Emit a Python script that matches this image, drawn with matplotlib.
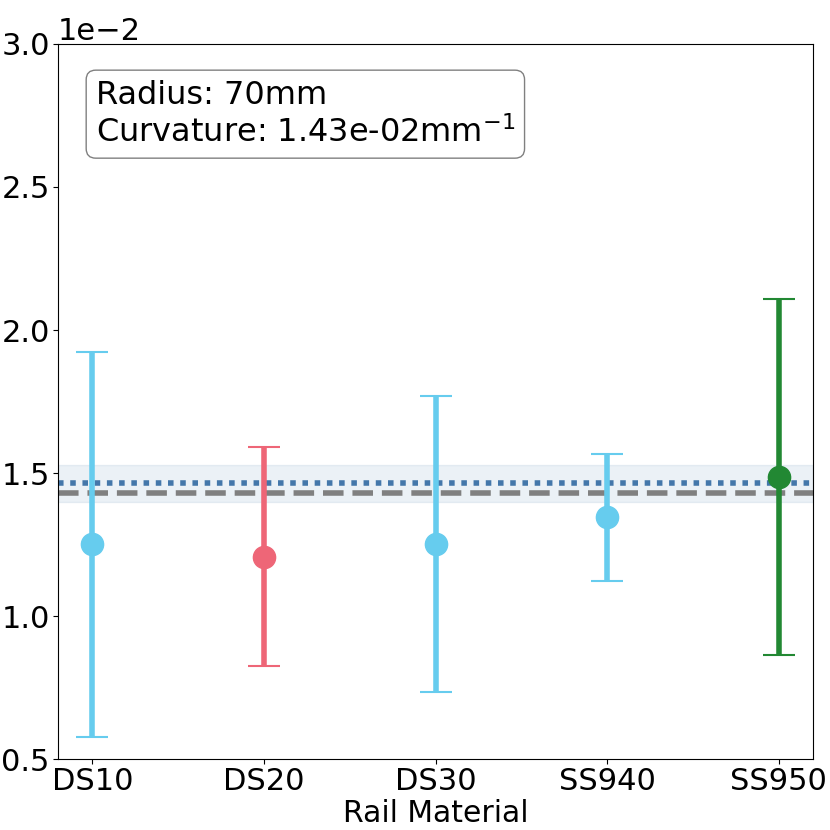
import matplotlib
matplotlib.use("Agg")
import matplotlib.pyplot as plt
import numpy as np

materials = ["DS10", "DS20", "DS30", "SS940", "SS950"]
means = [0.01252, 0.01206, 0.01252, 0.01346, 0.01486]
upper = [0.01923, 0.01591, 0.01769, 0.01566, 0.02108]
lower = [0.00577, 0.00825, 0.00734, 0.01122, 0.00864]
colors = ["#66CCEE", "#EE6677", "#66CCEE", "#66CCEE", "#228833"]
target_curv = 0.0143
mean_line = 0.01465
band_low, band_high = 0.01399, 0.01528

fig = plt.figure(figsize=(8.3, 8.3), dpi=100)
ax = fig.add_axes([0.0699, 0.0855, 0.9096, 0.8615])

x = np.arange(len(materials))
ax.axhspan(band_low, band_high, color="#4477AA", alpha=0.1, zorder=0)
ax.axhline(mean_line, color="#4477AA", linestyle=(0, (1, 1.2)), linewidth=4, zorder=1)
ax.axhline(target_curv, color="gray", linestyle="--", linewidth=4, zorder=1)

for i in range(len(materials)):
    m = means[i]
    ax.errorbar(x[i], m, yerr=[[m - lower[i]], [upper[i] - m]], fmt="o",
                color=colors[i], markersize=16, elinewidth=4, capsize=11.5,
                capthick=1.5, zorder=3)

ax.set_xticks(x)
ax.set_xticklabels(materials)
ax.set_xlim(-0.2, 4.2)
ax.set_ylim(0.005, 0.030)
ax.set_yticks([0.005, 0.010, 0.015, 0.020, 0.025, 0.030])
ax.ticklabel_format(axis="y", style="sci", scilimits=(0, 0))
ax.tick_params(labelsize=22)
ax.tick_params(axis="y", pad=2.5)
ax.tick_params(axis="x", pad=2.5)
ax.yaxis.get_offset_text().set_fontsize(22)
ax.set_xlabel("Rail Material", fontsize=21.5, labelpad=2)

ax.text(0.05, 0.95, "Radius: 70mm\nCurvature: 1.43e-02mm$^{-1}$",
        transform=ax.transAxes, fontsize=23, va="top", ha="left",
        bbox=dict(boxstyle="round,pad=0.3", facecolor="white", edgecolor="gray"))

fig.savefig("out.png", dpi=100)
